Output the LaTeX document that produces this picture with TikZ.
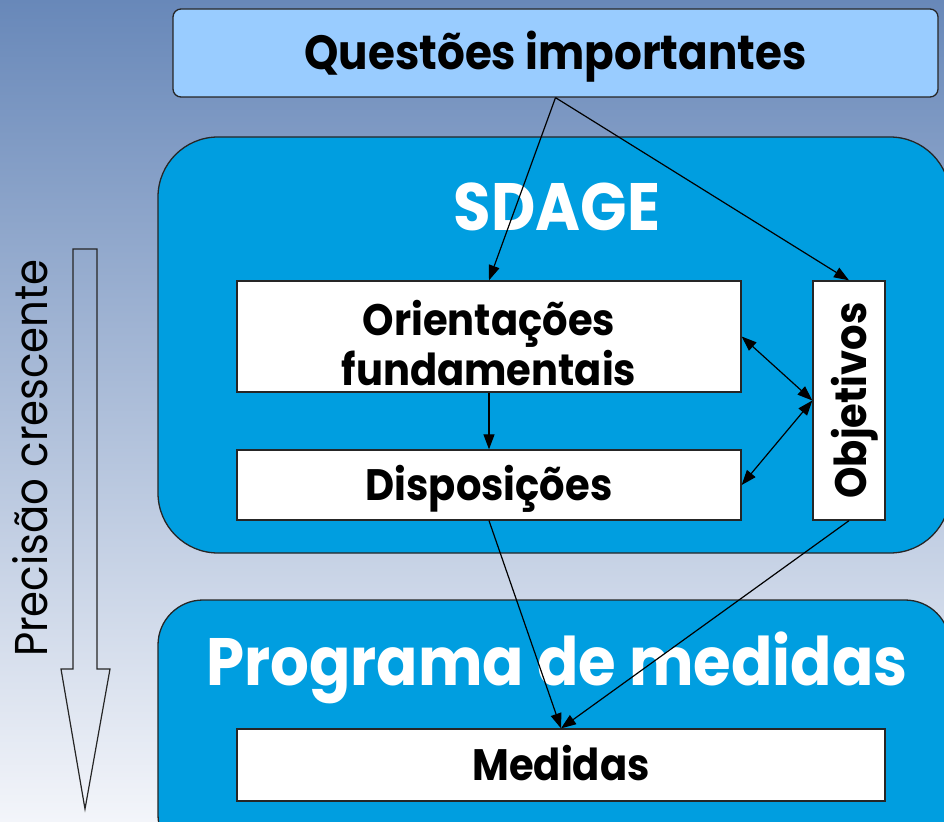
\documentclass[tikz,border=0pt]{standalone}
\usepackage{fontspec}
\setmainfont{Poppins}[FakeStretch=0.91]
\usepackage{tikz}
\usetikzlibrary{arrows.meta}

\definecolor{bgtop}{RGB}{104,136,185}
\definecolor{bgbot}{RGB}{243,245,250}
\definecolor{qblue}{RGB}{153,204,255}
\definecolor{sblue}{RGB}{0,158,224}

\begin{document}
\begin{tikzpicture}[x=1pt, y=-1pt,
   bigbox/.style={draw=black!85, line width=1.3pt, fill=sblue},
   whitebox/.style={draw=black!85, line width=1.3pt, fill=white, inner sep=0pt},
   boxtext/.style={font=\bfseries\fontsize{44}{50}\selectfont, align=center},
   titletext/.style={font=\bfseries\fontsize{67}{70}\selectfont, text=white, anchor=base},
   link/.style={line width=1.2pt, -{Triangle[length=15pt,width=11pt]}},
   dlink/.style={line width=1.2pt, {Triangle[length=15pt,width=11pt]}-{Triangle[length=15pt,width=11pt]}}]
   %
   \useasboundingbox (0,0) rectangle (944,821);
   \shade[top color=bgtop, bottom color=bgbot] (0,0) rectangle (944,821);
   \clip (0,0) rectangle (944,821);
   %
   \node[draw=black!85, line width=1.3pt, fill=qblue, rounded corners=8pt,
         minimum width=765pt, minimum height=88pt, text height=34pt, text depth=0pt,
         font=\bfseries\fontsize{48}{50}\selectfont] (questoes) at (555.5,53) {Questões importantes};
   %
   \node[bigbox, rounded corners=60pt, minimum width=792pt, minimum height=416pt] (sdage) at (554,345) {};
   \node[titletext] (sdagetitle) at (557,230) {SDAGE};
   %
   \node[whitebox, boxtext, minimum width=504pt, minimum height=111pt,
         text height=97pt, text depth=0pt] (orient) at (489,336.5) {Orientações\\fundamentais};
   \node[whitebox, boxtext, minimum width=504pt, minimum height=70pt,
         text height=30pt, text depth=0pt] (dispos) at (489,485) {Disposições};
   \node[whitebox, font=\bfseries\fontsize{44}{50}\selectfont, rotate=90,
         minimum width=239pt, minimum height=72pt, text height=35pt, text depth=0pt] (objet) at (849,400.5) {Objetivos};
   %
   \node[bigbox, rounded corners=45pt, minimum width=792pt, minimum height=260pt] (programa) at (554,730) {};
   \node[titletext] (programatitle) at (557,685) {Programa de medidas};
   \node[whitebox, boxtext, minimum width=648pt, minimum height=72pt,
         text height=30pt, text depth=0pt] (medidas) at (561,765) {Medidas};
   %
   \draw[black!85, line width=1.2pt] (73,249) -- (97,249) -- (97,669) -- (110,669) -- (85,809)
        -- (61,669) -- (73,669) -- cycle;
   \node[rotate=90, anchor=base, font=\fontsize{46}{50}\selectfont] (precisao) at (47,458) {Precisão crescente};
   %
   \draw[link] (questoes.south) -- (orient.north);
   \draw[link] (questoes.south) -- (objet.east);
   \draw[dlink] (orient.east) -- (objet.north);
   \draw[dlink] (dispos.east) -- (objet.north);
   \draw[link] (orient.south) -- (dispos.north);
   \draw[link] (dispos.south) -- (medidas.north);
   \draw[link] (objet.west) -- (medidas.north);
   %
\end{tikzpicture}
\end{document}
